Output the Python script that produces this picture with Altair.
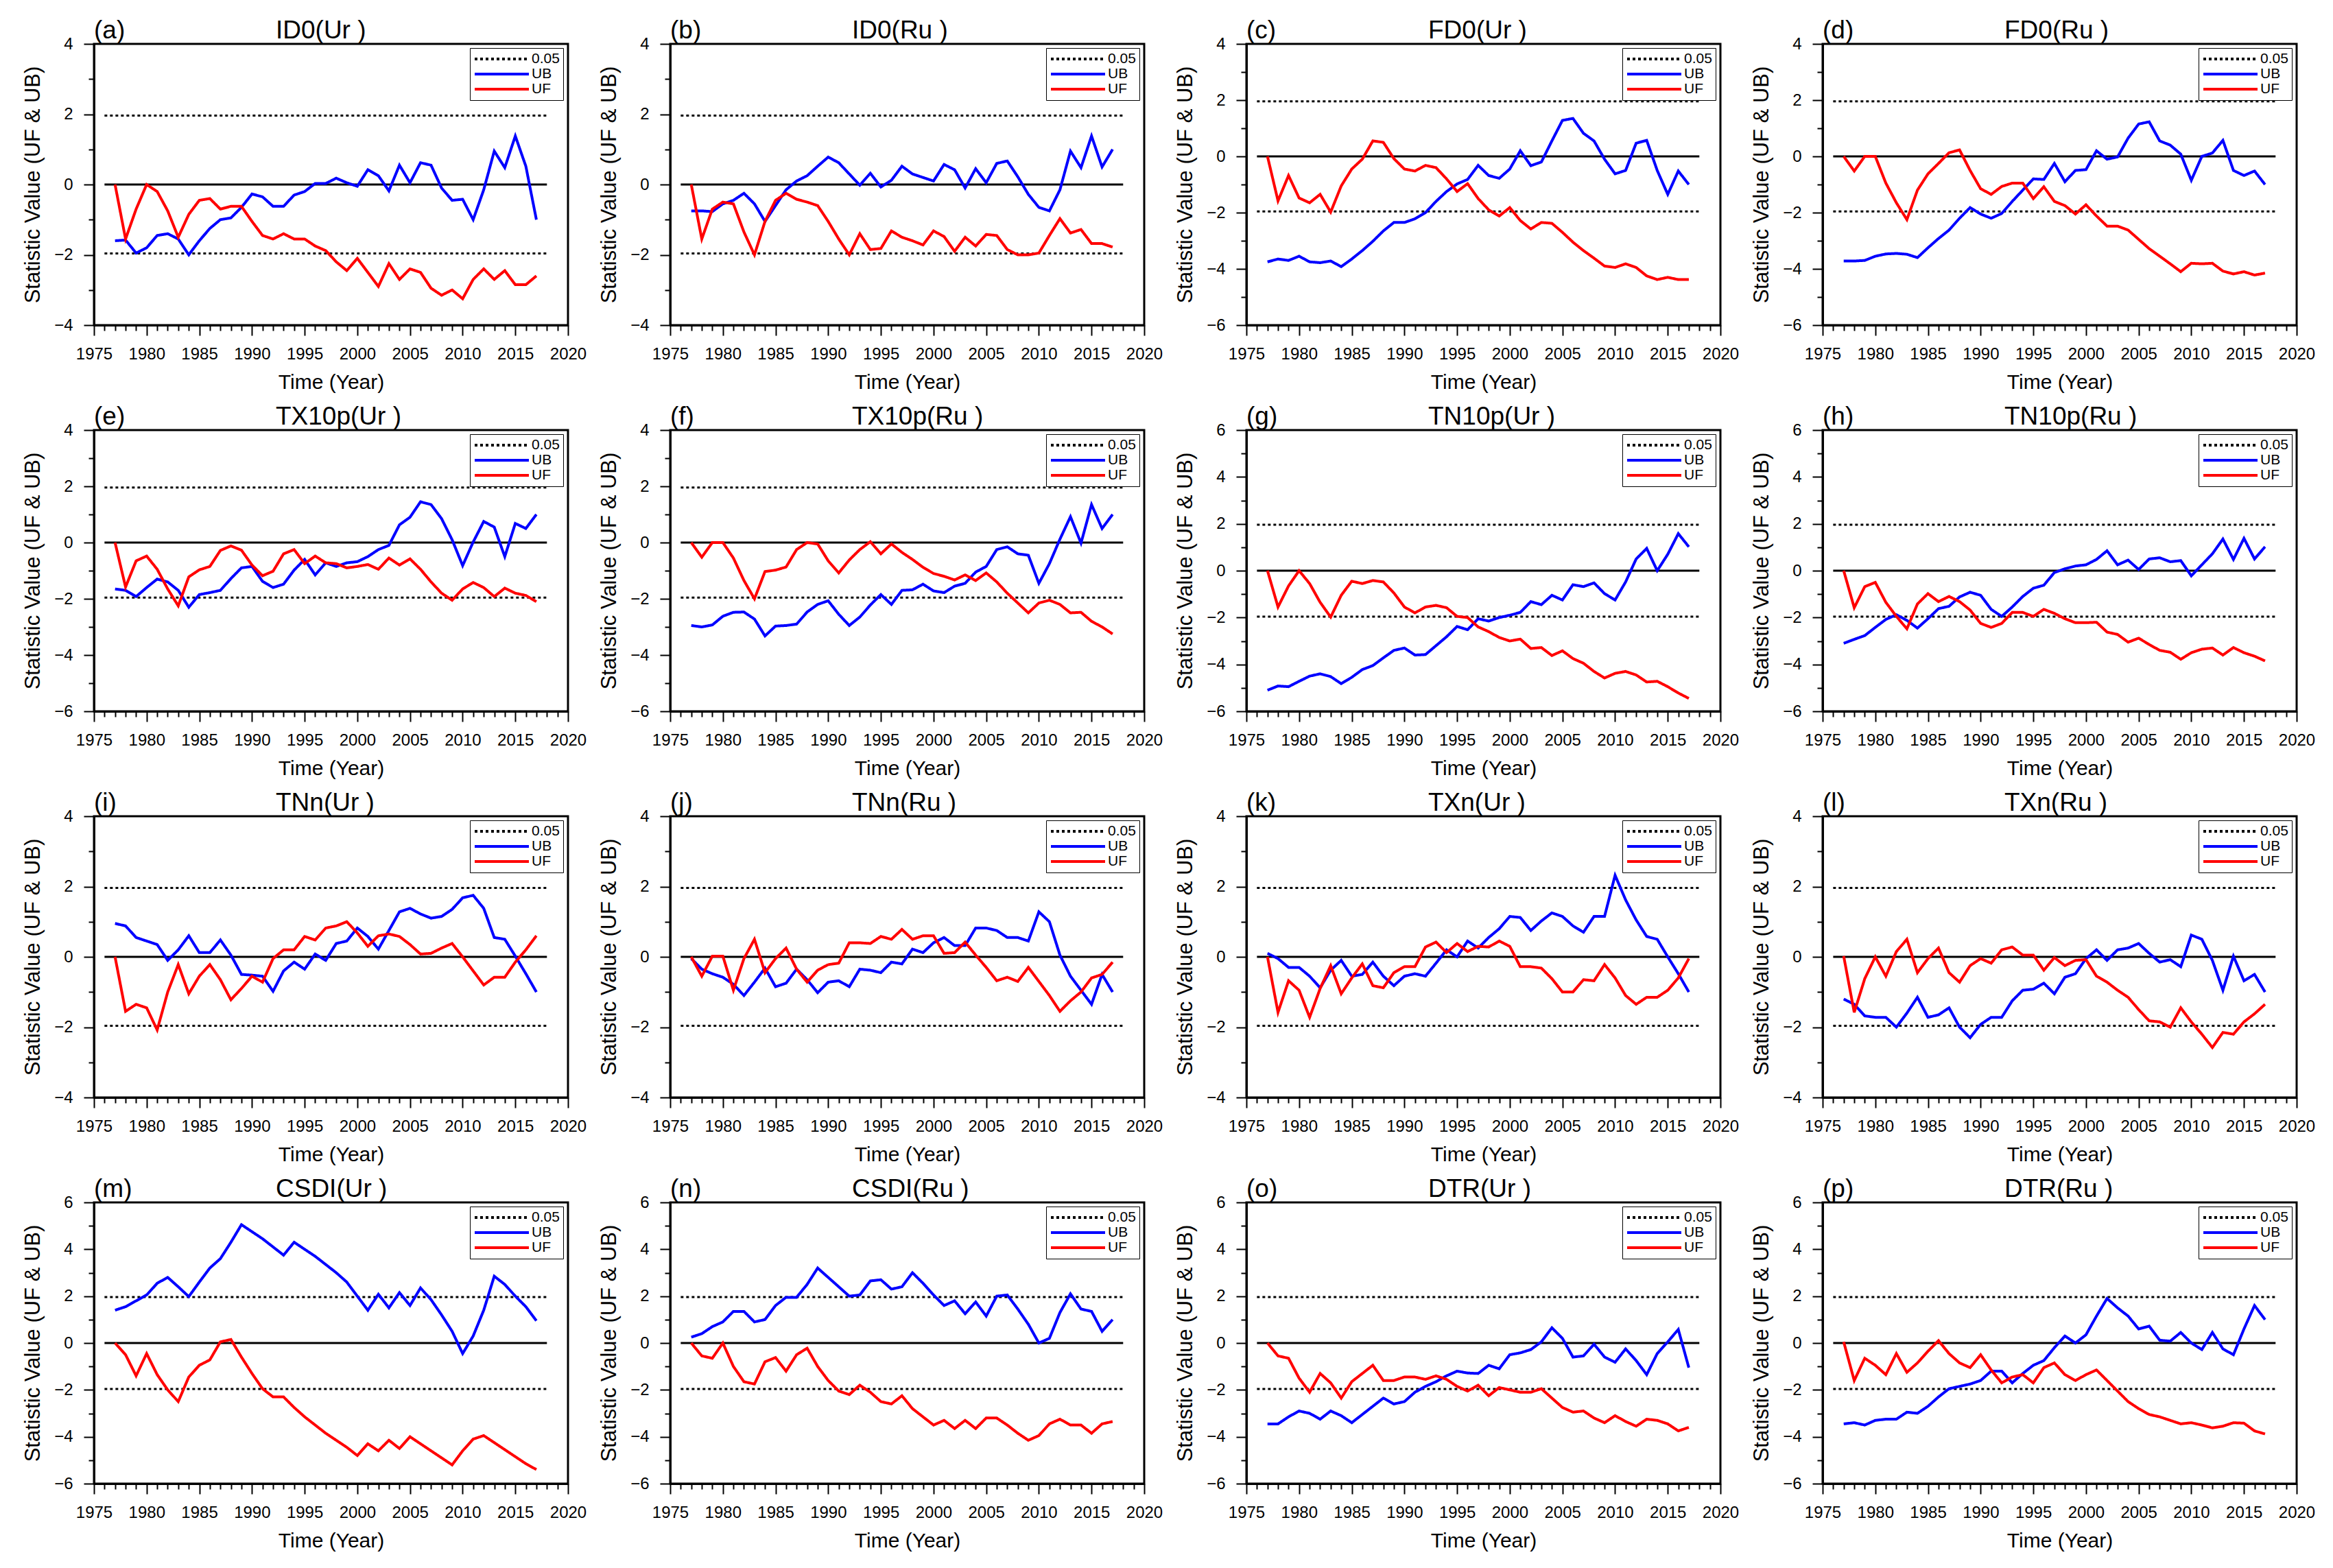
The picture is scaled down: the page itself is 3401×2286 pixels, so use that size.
import altair as alt
import pandas as pd

YEARS = list(range(1977, 2018))

# ---- (a) ID0 (Ur) ----
ID0_UR_UF = [0, -1.55, -0.7, 0, -0.2, -0.75, -1.5, -0.85, -0.45, -0.4, -0.7, -0.62, -0.62, -1.05, -1.45, -1.55, -1.4, -1.55, -1.55, -1.75, -1.88, -2.2, -2.45, -2.1, -2.5, -2.9, -2.25, -2.7, -2.4, -2.5, -2.95, -3.15, -3.0, -3.25, -2.7, -2.4, -2.7, -2.45, -2.85, -2.85, -2.6]
ID0_UR_UB = [-1.6, -1.58, -1.95, -1.8, -1.45, -1.4, -1.55, -2.0, -1.6, -1.25, -1.0, -0.95, -0.65, -0.27, -0.35, -0.62, -0.62, -0.3, -0.2, 0.03, 0.03, 0.18, 0.05, -0.05, 0.42, 0.25, -0.18, 0.55, 0.05, 0.62, 0.55, -0.1, -0.45, -0.42, -1.0, -0.15, 0.95, 0.48, 1.38, 0.52, -1.0]
# ---- (b) ID0 (Ru) ----
ID0_RU_UF = [0, -1.55, -0.7, -0.5, -0.55, -1.35, -2.0, -1.05, -0.45, -0.25, -0.42, -0.5, -0.6, -1.05, -1.55, -2.0, -1.4, -1.85, -1.82, -1.32, -1.5, -1.6, -1.72, -1.32, -1.48, -1.9, -1.5, -1.75, -1.42, -1.45, -1.85, -2.0, -2.0, -1.95, -1.45, -0.97, -1.38, -1.28, -1.68, -1.68, -1.78]
ID0_RU_UB = [-0.75, -0.75, -0.77, -0.55, -0.45, -0.25, -0.55, -1.05, -0.6, -0.15, 0.1, 0.25, 0.52, 0.78, 0.62, 0.3, -0.02, 0.32, -0.07, 0.12, 0.52, 0.3, 0.2, 0.1, 0.57, 0.42, -0.1, 0.45, 0.05, 0.6, 0.67, 0.22, -0.28, -0.65, -0.75, -0.15, 0.95, 0.48, 1.38, 0.5, 1.0]
# ---- (c) FD0 (Ur) ----
FD0_UR_UF = [0, -1.58, -0.68, -1.48, -1.65, -1.35, -1.98, -1.05, -0.45, -0.1, 0.55, 0.5, -0.08, -0.45, -0.52, -0.32, -0.4, -0.8, -1.25, -0.97, -1.5, -1.9, -2.12, -1.82, -2.28, -2.58, -2.35, -2.38, -2.7, -3.05, -3.35, -3.62, -3.9, -3.95, -3.82, -3.95, -4.25, -4.38, -4.3, -4.38, -4.38]
FD0_UR_UB = [-3.75, -3.65, -3.7, -3.55, -3.75, -3.78, -3.72, -3.92, -3.65, -3.35, -3.02, -2.65, -2.35, -2.35, -2.22, -2.0, -1.6, -1.25, -0.98, -0.82, -0.32, -0.68, -0.78, -0.45, 0.2, -0.33, -0.2, 0.55, 1.28, 1.35, 0.82, 0.55, -0.1, -0.62, -0.5, 0.47, 0.57, -0.5, -1.35, -0.52, -1.0]
# ---- (d) FD0 (Ru) ----
FD0_RU_UF = [0, -0.52, 0, 0, -0.95, -1.65, -2.25, -1.2, -0.62, -0.25, 0.13, 0.23, -0.5, -1.15, -1.35, -1.07, -0.95, -0.95, -1.5, -1.08, -1.6, -1.75, -2.05, -1.72, -2.12, -2.48, -2.48, -2.62, -2.95, -3.28, -3.55, -3.82, -4.1, -3.8, -3.82, -3.8, -4.08, -4.18, -4.1, -4.22, -4.15]
FD0_RU_UB = [-3.72, -3.72, -3.7, -3.55, -3.47, -3.45, -3.48, -3.6, -3.25, -2.92, -2.62, -2.2, -1.82, -2.05, -2.2, -2.03, -1.6, -1.2, -0.8, -0.82, -0.25, -0.9, -0.5, -0.47, 0.2, -0.1, -0.02, 0.65, 1.15, 1.23, 0.55, 0.4, 0.08, -0.85, 0.0, 0.12, 0.57, -0.5, -0.68, -0.52, -1.0]
# ---- (e) TX10p (Ur) ----
TX10P_UR_UF = [0, -1.58, -0.65, -0.48, -0.95, -1.65, -2.25, -1.22, -0.97, -0.85, -0.28, -0.12, -0.27, -0.8, -1.18, -1.02, -0.4, -0.25, -0.75, -0.48, -0.72, -0.75, -0.9, -0.85, -0.78, -0.95, -0.55, -0.8, -0.58, -0.95, -1.4, -1.8, -2.05, -1.65, -1.42, -1.6, -1.92, -1.62, -1.8, -1.88, -2.1]
TX10P_UR_UB = [-1.65, -1.7, -1.92, -1.6, -1.3, -1.4, -1.7, -2.3, -1.85, -1.78, -1.7, -1.28, -0.9, -0.85, -1.38, -1.6, -1.48, -0.98, -0.6, -1.15, -0.72, -0.85, -0.72, -0.68, -0.5, -0.25, -0.1, 0.63, 0.9, 1.45, 1.35, 0.85, 0.1, -0.82, 0.02, 0.75, 0.55, -0.5, 0.68, 0.5, 1.0]
# ---- (f) TX10p (Ru) ----
TX10P_RU_UF = [0, -0.52, 0, 0, -0.55, -1.35, -2.0, -1.03, -0.98, -0.87, -0.25, 0, -0.05, -0.65, -1.08, -0.62, -0.25, 0.03, -0.4, -0.05, -0.35, -0.6, -0.88, -1.1, -1.2, -1.33, -1.15, -1.35, -1.08, -1.4, -1.8, -2.15, -2.5, -2.15, -2.05, -2.2, -2.5, -2.48, -2.8, -3.0, -3.25]
TX10P_RU_UB = [-2.95, -3.0, -2.93, -2.62, -2.48, -2.47, -2.72, -3.32, -2.97, -2.95, -2.9, -2.47, -2.2, -2.07, -2.55, -2.95, -2.65, -2.22, -1.85, -2.2, -1.7, -1.68, -1.48, -1.72, -1.78, -1.55, -1.45, -1.05, -0.85, -0.25, -0.15, -0.4, -0.45, -1.45, -0.75, 0.12, 0.92, -0.02, 1.35, 0.5, 1.0]
# ---- (g) TN10p (Ur) ----
TN10P_UR_UF = [0, -1.55, -0.65, 0, -0.55, -1.35, -1.98, -1.05, -0.45, -0.55, -0.42, -0.48, -0.95, -1.55, -1.8, -1.55, -1.48, -1.58, -1.95, -2.0, -2.4, -2.6, -2.85, -3.0, -2.92, -3.32, -3.28, -3.62, -3.42, -3.75, -3.95, -4.3, -4.58, -4.38, -4.3, -4.45, -4.75, -4.72, -4.95, -5.22, -5.45]
TN10P_UR_UB = [-5.1, -4.92, -4.95, -4.72, -4.5, -4.4, -4.52, -4.82, -4.55, -4.22, -4.05, -3.72, -3.4, -3.3, -3.6, -3.58, -3.2, -2.82, -2.38, -2.52, -2.05, -2.15, -2.0, -1.9, -1.78, -1.32, -1.45, -1.05, -1.25, -0.6, -0.68, -0.52, -0.98, -1.25, -0.48, 0.5, 0.95, 0.0, 0.7, 1.58, 1.02]
# ---- (h) TN10p (Ru) ----
TN10P_RU_UF = [0, -1.58, -0.68, -0.5, -1.35, -1.95, -2.48, -1.42, -0.98, -1.32, -1.1, -1.32, -1.68, -2.25, -2.42, -2.25, -1.78, -1.78, -1.95, -1.65, -1.82, -2.05, -2.22, -2.22, -2.2, -2.62, -2.72, -3.05, -2.88, -3.15, -3.4, -3.48, -3.78, -3.5, -3.35, -3.3, -3.6, -3.28, -3.5, -3.65, -3.85]
TN10P_RU_UB = [-3.1, -2.93, -2.77, -2.42, -2.08, -1.88, -2.12, -2.45, -2.05, -1.62, -1.52, -1.12, -0.92, -1.05, -1.65, -1.95, -1.55, -1.1, -0.75, -0.62, -0.08, 0.08, 0.2, 0.25, 0.48, 0.85, 0.25, 0.45, 0.05, 0.5, 0.55, 0.38, 0.43, -0.22, 0.25, 0.72, 1.35, 0.48, 1.38, 0.5, 1.02]
# ---- (i) TNn (Ur) ----
TNN_UR_UF = [0.0, -1.55, -1.35, -1.45, -2.08, -1.0, -0.22, -1.05, -0.55, -0.22, -0.65, -1.22, -0.9, -0.55, -0.72, -0.05, 0.2, 0.2, 0.58, 0.48, 0.82, 0.88, 1.0, 0.68, 0.3, 0.6, 0.65, 0.58, 0.35, 0.08, 0.1, 0.25, 0.38, 0.0, -0.4, -0.8, -0.58, -0.58, -0.15, 0.2, 0.6]
TNN_UR_UB = [0.95, 0.88, 0.55, 0.45, 0.35, -0.1, 0.2, 0.6, 0.12, 0.12, 0.48, 0.05, -0.5, -0.52, -0.55, -0.98, -0.4, -0.15, -0.35, 0.08, -0.1, 0.38, 0.45, 0.82, 0.58, 0.22, 0.75, 1.28, 1.38, 1.22, 1.1, 1.15, 1.35, 1.68, 1.75, 1.38, 0.55, 0.5, 0.02, -0.48, -1.0]
# ---- (j) TNn (Ru) ----
TNN_RU_UF = [0.0, -0.55, 0.02, 0.02, -0.95, -0.05, 0.5, -0.45, -0.05, 0.25, -0.35, -0.72, -0.38, -0.22, -0.18, 0.4, 0.4, 0.38, 0.58, 0.5, 0.78, 0.5, 0.6, 0.6, 0.1, 0.12, 0.42, 0.05, -0.3, -0.68, -0.58, -0.7, -0.3, -0.7, -1.1, -1.55, -1.25, -1.0, -0.6, -0.5, -0.15]
TNN_RU_UB = [-0.05, -0.35, -0.48, -0.58, -0.78, -1.1, -0.72, -0.32, -0.85, -0.75, -0.35, -0.65, -1.02, -0.72, -0.68, -0.85, -0.35, -0.38, -0.45, -0.15, -0.2, 0.22, 0.12, 0.4, 0.55, 0.32, 0.32, 0.82, 0.82, 0.75, 0.55, 0.55, 0.45, 1.28, 1.0, 0.05, -0.55, -0.95, -1.35, -0.5, -1.0]
# ---- (k) TXn (Ur) ----
TXN_UR_UF = [0.0, -1.58, -0.68, -0.95, -1.72, -0.9, -0.25, -1.05, -0.6, -0.2, -0.82, -0.88, -0.45, -0.28, -0.28, 0.28, 0.42, 0.12, 0.38, 0.15, 0.3, 0.28, 0.45, 0.3, -0.28, -0.28, -0.32, -0.62, -1.0, -1.0, -0.65, -0.68, -0.22, -0.6, -1.1, -1.35, -1.15, -1.15, -0.95, -0.6, -0.05]
TXN_UR_UB = [0.1, -0.05, -0.3, -0.3, -0.55, -0.88, -0.38, -0.1, -0.55, -0.5, -0.15, -0.55, -0.82, -0.55, -0.48, -0.55, -0.18, 0.2, 0.0, 0.45, 0.25, 0.55, 0.8, 1.15, 1.12, 0.75, 1.02, 1.25, 1.15, 0.88, 0.7, 1.15, 1.15, 2.32, 1.62, 1.05, 0.58, 0.5, 0.0, -0.48, -1.0]
# ---- (l) TXn (Ru) ----
TXN_RU_UF = [0.02, -1.58, -0.62, 0.0, -0.55, 0.15, 0.5, -0.45, -0.05, 0.25, -0.45, -0.72, -0.25, -0.05, -0.18, 0.2, 0.28, 0.05, 0.05, -0.38, -0.02, -0.25, -0.1, -0.08, -0.55, -0.72, -0.95, -1.15, -1.5, -1.82, -1.85, -2.0, -1.45, -1.85, -2.2, -2.58, -2.15, -2.2, -1.85, -1.62, -1.35]
TXN_RU_UB = [-1.2, -1.35, -1.68, -1.72, -1.72, -2.0, -1.6, -1.15, -1.72, -1.65, -1.45, -2.0, -2.3, -1.92, -1.72, -1.72, -1.25, -0.95, -0.92, -0.75, -1.05, -0.58, -0.48, -0.05, 0.2, -0.1, 0.2, 0.25, 0.38, 0.1, -0.15, -0.08, -0.28, 0.62, 0.5, -0.1, -0.95, 0.02, -0.68, -0.5, -1.0]
# ---- (m) CSDI (Ur) ----
CSDI_UR_UF = [0.0, -0.5, -1.4, -0.45, -1.35, -2.0, -2.5, -1.45, -0.95, -0.72, 0.05, 0.15, -0.6, -1.3, -1.95, -2.3, -2.3, -2.75, -3.15, -3.5, -3.85, -4.15, -4.45, -4.8, -4.3, -4.6, -4.15, -4.5, -4.0, -4.3, -4.6, -4.9, -5.2, -4.6, -4.1, -3.95, -4.25, -4.55, -4.85, -5.15, -5.4]
CSDI_UR_UB = [1.4, 1.55, 1.8, 2.05, 2.55, 2.8, 2.4, 1.98, 2.6, 3.2, 3.6, 4.3, 5.05, 4.75, 4.45, 4.1, 3.75, 4.3, 4.0, 3.7, 3.35, 3.0, 2.6, 2.0, 1.4, 2.08, 1.5, 2.15, 1.6, 2.35, 1.85, 1.2, 0.5, -0.45, 0.3, 1.4, 2.85, 2.5, 2.0, 1.55, 0.95]
# ---- (n) CSDI (Ru) ----
CSDI_RU_UF = [0.0, -0.55, -0.65, 0.0, -1.0, -1.65, -1.75, -0.8, -0.62, -1.2, -0.5, -0.22, -1.0, -1.6, -2.05, -2.2, -1.8, -2.1, -2.5, -2.6, -2.25, -2.8, -3.15, -3.5, -3.3, -3.65, -3.3, -3.65, -3.2, -3.2, -3.5, -3.85, -4.15, -3.95, -3.45, -3.25, -3.5, -3.5, -3.85, -3.45, -3.35]
CSDI_RU_UB = [0.25, 0.4, 0.7, 0.9, 1.35, 1.35, 0.9, 1.0, 1.6, 1.95, 1.95, 2.5, 3.2, 2.8, 2.4, 2.0, 2.05, 2.65, 2.7, 2.3, 2.4, 3.0, 2.55, 2.05, 1.6, 1.8, 1.25, 1.75, 1.15, 2.0, 2.05, 1.45, 0.8, 0.0, 0.2, 1.3, 2.1, 1.45, 1.35, 0.5, 1.0]
# ---- (o) DTR (Ur) ----
DTR_UR_UF = [0.0, -0.55, -0.65, -1.5, -2.1, -1.3, -1.7, -2.35, -1.65, -1.3, -0.95, -1.6, -1.6, -1.45, -1.45, -1.55, -1.4, -1.55, -1.85, -2.05, -1.8, -2.25, -1.9, -2.0, -2.1, -2.1, -1.95, -2.35, -2.75, -2.95, -2.9, -3.2, -3.4, -3.1, -3.35, -3.55, -3.25, -3.3, -3.45, -3.75, -3.6]
DTR_UR_UB = [-3.45, -3.45, -3.15, -2.9, -3.0, -3.25, -2.9, -3.1, -3.4, -3.05, -2.7, -2.35, -2.6, -2.5, -2.1, -1.85, -1.65, -1.4, -1.2, -1.28, -1.3, -0.95, -1.1, -0.5, -0.42, -0.28, 0.05, 0.65, 0.2, -0.6, -0.55, -0.05, -0.6, -0.82, -0.25, -0.75, -1.35, -0.45, 0.05, 0.58, -1.05]
# ---- (p) DTR (Ru) ----
DTR_RU_UF = [0.05, -1.6, -0.65, -0.95, -1.35, -0.45, -1.25, -0.85, -0.35, 0.1, -0.45, -0.85, -1.05, -0.5, -1.15, -1.7, -1.45, -1.35, -1.7, -1.05, -0.85, -1.35, -1.6, -1.35, -1.15, -1.6, -2.05, -2.5, -2.8, -3.05, -3.15, -3.3, -3.45, -3.4, -3.5, -3.62, -3.55, -3.4, -3.42, -3.75, -3.88]
DTR_RU_UB = [-3.45, -3.4, -3.5, -3.3, -3.25, -3.25, -2.95, -3.0, -2.7, -2.3, -1.95, -1.85, -1.75, -1.6, -1.2, -1.2, -1.7, -1.3, -0.95, -0.75, -0.2, 0.3, 0.0, 0.35, 1.15, 1.9, 1.5, 1.15, 0.6, 0.72, 0.12, 0.08, 0.45, 0.0, -0.28, 0.45, -0.25, -0.5, 0.6, 1.6, 1.0]

LABELS = ["(a)", "(b)", "(c)", "(d)", "(e)", "(f)", "(g)", "(h)",
          "(i)", "(j)", "(k)", "(l)", "(m)", "(n)", "(o)", "(p)"]
TITLES = ["ID0(Ur )", "ID0(Ru )", "FD0(Ur )", "FD0(Ru )",
          "TX10p(Ur )", "TX10p(Ru )", "TN10p(Ur )", "TN10p(Ru )",
          "TNn(Ur )", "TNn(Ru )", "TXn(Ur )", "TXn(Ru )",
          "CSDI(Ur )", "CSDI(Ru )", "DTR(Ur )", "DTR(Ru )"]
UF_SERIES = [ID0_UR_UF, ID0_RU_UF, FD0_UR_UF, FD0_RU_UF, TX10P_UR_UF, TX10P_RU_UF,
             TN10P_UR_UF, TN10P_RU_UF, TNN_UR_UF, TNN_RU_UF, TXN_UR_UF, TXN_RU_UF,
             CSDI_UR_UF, CSDI_RU_UF, DTR_UR_UF, DTR_RU_UF]
UB_SERIES = [ID0_UR_UB, ID0_RU_UB, FD0_UR_UB, FD0_RU_UB, TX10P_UR_UB, TX10P_RU_UB,
             TN10P_UR_UB, TN10P_RU_UB, TNN_UR_UB, TNN_RU_UB, TXN_UR_UB, TXN_RU_UB,
             CSDI_UR_UB, CSDI_RU_UB, DTR_UR_UB, DTR_RU_UB]
Y_MIN = [-4, -4, -6, -6, -6, -6, -6, -6, -4, -4, -4, -4, -6, -6, -6, -6]
Y_MAX = [4, 4, 4, 4, 4, 4, 6, 6, 4, 4, 4, 4, 6, 6, 6, 6]

SIG_LEVEL = 1.96
SERIES = ["0.05", "UB", "UF"]
COLORS = ["#000000", "#0000ff", "#ff0000"]
DASHES = [[4, 4], [1, 0], [1, 0]]

FONT = "Liberation Sans"
W, H = 691, 410


def make_panel(label, title, uf, ub, ymin, ymax):
    n = len(YEARS)
    lines = pd.DataFrame({"year": YEARS + YEARS, "value": ub + uf,
                          "series": ["UB"] * n + ["UF"] * n})
    sig = pd.DataFrame({"x": [1976, 1976], "x2": [2018, 2018],
                        "y": [SIG_LEVEL, -SIG_LEVEL], "series": ["0.05", "0.05"]})
    zero = pd.DataFrame({"x": [1976], "x2": [2018], "y": [0.0]})

    xscale = alt.Scale(domain=[1975, 2020], nice=False, zero=False)
    yscale = alt.Scale(domain=[ymin, ymax], nice=False, zero=False)
    yvals = [ymin + 0.5 * k for k in range(int((ymax - ymin) * 2) + 1)]

    xaxis = alt.Axis(values=list(range(1975, 2021)), format="d",
                     labelExpr="datum.value % 5 === 0 ? datum.label : ''",
                     tickSize={"condition": {"test": "datum.value % 5 === 0", "value": 15}, "value": 8},
                     title="Time (Year)", titleFontSize=30, titlePadding=14,
                     labelFontSize=24, labelPadding=15, labelFlush=False,
                     labelOverlap=False, grid=False)
    yaxis = alt.Axis(values=yvals, format="d",
                     labelExpr="datum.value % 2 === 0 ? datum.label : ''",
                     tickSize={"condition": {"test": "datum.value % 2 === 0", "value": 15}, "value": 8},
                     title="Statistic Value (UF & UB)", titleFontSize=31, titlePadding=14,
                     labelFontSize=24, labelPadding=16, labelFlush=False,
                     labelOverlap=False, grid=False)

    leg = alt.Legend(title=None, orient="none", legendX=548, legendY=6,
                     symbolType="stroke", symbolSize=6241, symbolStrokeWidth=4,
                     clipHeight=22, labelFont=FONT, labelFontSize=21, labelOffset=2,
                     padding=5, strokeColor="black", fillColor="white",
                     rowPadding=0, labelLimit=0)
    color = alt.Color("series:N", scale=alt.Scale(domain=SERIES, range=COLORS), legend=leg)
    dash = alt.StrokeDash("series:N", scale=alt.Scale(domain=SERIES, range=DASHES), legend=leg)

    zero_rule = alt.Chart(zero).mark_rule(color="black", strokeWidth=3).encode(
        x=alt.X("x:Q", scale=xscale, axis=xaxis), x2="x2:Q",
        y=alt.Y("y:Q", scale=yscale, axis=yaxis))
    sig_rule = alt.Chart(sig).mark_rule(strokeWidth=3).encode(
        x=alt.X("x:Q", scale=xscale, axis=xaxis), x2="x2:Q",
        y=alt.Y("y:Q", scale=yscale, axis=yaxis),
        color=color, strokeDash=dash)
    line = alt.Chart(lines).mark_line(strokeWidth=4).encode(
        x=alt.X("year:Q", scale=xscale, axis=xaxis),
        y=alt.Y("value:Q", scale=yscale, axis=yaxis),
        color=color, strokeDash=dash)

    lab = alt.Chart(pd.DataFrame({"t": [label]})).mark_text(
        align="left", baseline="alphabetic", fontSize=37, font=FONT, color="black"
    ).encode(x=alt.value(0), y=alt.value(-8), text="t:N")
    ttl = alt.Chart(pd.DataFrame({"t": [title]})).mark_text(
        align="left", baseline="alphabetic", fontSize=37, font=FONT, color="black"
    ).encode(x=alt.value(265), y=alt.value(-8), text="t:N")

    return alt.layer(zero_rule, sig_rule, line, lab, ttl).properties(width=W, height=H)


panels = [make_panel(LABELS[i], TITLES[i], UF_SERIES[i], UB_SERIES[i], Y_MIN[i], Y_MAX[i])
          for i in range(16)]

chart = alt.concat(*panels, columns=4, spacing={"row": 153, "column": 149},
                   bounds="flush").resolve_scale(
    color="independent", strokeDash="independent"
).properties(
    padding={"left": 23, "top": 16, "right": 5, "bottom": 5},
    background="white"
).configure(font=FONT).configure_view(
    stroke="black", strokeWidth=3
).configure_axis(
    labelFont=FONT, titleFont=FONT, labelColor="black", titleColor="black",
    titleFontWeight="normal", domainColor="black", domainWidth=3,
    tickColor="black", tickWidth=2
)

chart.save("out.html", embed_options={"renderer": "svg", "actions": False})
